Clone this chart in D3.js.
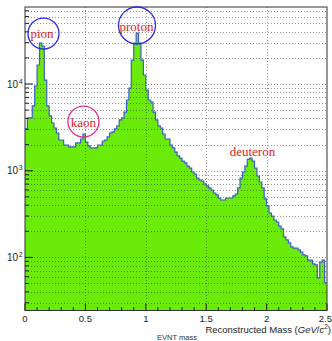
<!DOCTYPE html>
<html>
<head>
<meta charset="utf-8">
<script src="https://cdn.jsdelivr.net/npm/d3@7"></script>
<style>
  body { margin: 0; background: #fff; }
</style>
</head>
<body>
<div id="my_hist"></div>
<script>
// reconstructed mass histogram, 125 bins of 0.02 GeV/c^2 from 0 to 2.5
const massRange = [0, 2.5];
const counts = [
  3030, 4060, 4060, 5580, 9480, 16560, 29700, 27400, 11100, 5580,
  4280, 3550, 3110, 2720, 2260, 2260, 1980, 1980, 1880, 1880,
  1880, 2090, 2090, 2320, 2650, 2140, 1930, 1830, 1830, 1830,
  1980, 1980, 2200, 2260, 2450, 2720, 2800, 3030, 3280, 3850,
  4060, 4750, 6540, 8990, 18900, 29700, 38700, 29700, 18900, 12700,
  8530, 6540, 6200, 4750, 3850, 3280, 3110, 2650, 2320, 2320,
  1980, 1830, 1640, 1480, 1400, 1290, 1230, 1130, 1070, 966,
  916, 824, 781, 761, 703, 667, 632, 599, 553, 525,
  484, 459, 459, 484, 484, 484, 511, 538, 632, 824,
  966, 1130, 1350, 1400, 1290, 1070, 869, 741, 632, 472,
  392, 325, 300, 270, 256, 230, 213, 172, 159, 147,
  132, 128, 128, 122, 115, 107, 104, 93, 93, 84,
  82, 58, 88, 93, 51
];
const countRange = [24.4, 77300];

const xTicks = [0, 0.5, 1, 1.5, 2, 2.5];
const xTickLabels = ["0", "0.5", "1", "1.5", "2", "2.5"];
const yDecades = [2, 3, 4];

// particle labels (mass, counts) and the circles drawn round them
const peakNames = ["pion", "kaon", "proton", "deuteron"];
const peakLabelMass = [0.141, 0.484, 0.923, 1.883];
const peakLabelCount = [34000, 3190, 40800, 1480];
const circleMass = [0.153, 0.484, 0.927];
const circleCount = [38200, 3690, 47300];
const circleColor = ["#2a2ae0", "#e0308c", "#2a2ae0"];
const circleRadius = [15.5, 15.5, 18.5];

// set the dimensions and margins of the graph
const W = 332, H = 341;
const margin = {top: 7, right: 5, bottom: 30.5, left: 25};

const svg = d3.select("#my_hist")
  .append("svg")
    .attr("width", W)
    .attr("height", H)
    .style("font-family", "'Liberation Sans', Arial, sans-serif");

const x = d3.scaleLinear()
  .domain(massRange)
  .range([margin.left, W - margin.right]);

const y = d3.scaleLog()
  .domain(countRange)
  .range([H - margin.bottom, margin.top]);

const bw = (massRange[1] - massRange[0]) / counts.length;

// step outline of the histogram
const pts = [];
counts.forEach((c, i) => {
  pts.push([x(i * bw), y(c)]);
  pts.push([x((i + 1) * bw), y(c)]);
});

svg.append("path")
  .datum(pts)
  .attr("fill", "#6aeb0a")
  .attr("d", d3.area().x(d => d[0]).y0(y.range()[0]).y1(d => d[1]));

// grid (dotted, drawn over the fill)
const grid = svg.append("g")
  .attr("stroke", "#3a3a3a")
  .attr("stroke-opacity", 0.55)
  .attr("stroke-dasharray", "1,2")
  .attr("fill", "none");

xTicks.filter(t => t > 0 && t < 2.5).forEach(t => {
  grid.append("line")
    .attr("x1", Math.round(x(t)) + 0.5).attr("x2", Math.round(x(t)) + 0.5)
    .attr("y1", y.range()[1]).attr("y2", y.range()[0]);
});

const yGrid = [];
[1, 2, 3, 4].forEach(k => {
  for (let m = 1; m <= 9; m++) {
    const v = m * Math.pow(10, k);
    if (v > countRange[0] && v < countRange[1]) yGrid.push(v);
  }
});
yGrid.forEach(v => {
  grid.append("line")
    .attr("x1", x.range()[0]).attr("x2", x.range()[1])
    .attr("y1", Math.round(y(v)) + 0.5).attr("y2", Math.round(y(v)) + 0.5);
});

svg.append("path")
  .datum(pts)
  .attr("fill", "none")
  .attr("stroke", "#3b5fc9")
  .attr("stroke-width", 1.2)
  .attr("d", d3.line());

// frame
svg.append("rect")
  .attr("x", x.range()[0]).attr("y", y.range()[1])
  .attr("width", x.range()[1] - x.range()[0])
  .attr("height", y.range()[0] - y.range()[1])
  .attr("fill", "none")
  .attr("stroke", "#333")
  .attr("stroke-width", 1);

// x ticks: majors every 0.5, minors every 0.1, pointing up
const ticks = svg.append("g").attr("stroke", "#222").attr("stroke-width", 1);
d3.range(26).forEach(i => {
  const t = i / 10;
  const major = i % 5 === 0;
  ticks.append("line")
    .attr("x1", x(t)).attr("x2", x(t))
    .attr("y1", y.range()[0]).attr("y2", y.range()[0] - (major ? 7 : 3.5));
});
// y ticks on the left axis
yGrid.forEach(v => {
  const major = Math.abs(Math.log10(v) - Math.round(Math.log10(v))) < 1e-9;
  ticks.append("line")
    .attr("x1", x.range()[0]).attr("x2", x.range()[0] + (major ? 8 : 4))
    .attr("y1", y(v)).attr("y2", y(v));
});

// tick labels
svg.append("g")
  .selectAll("text")
  .data(xTicks)
  .join("text")
    .attr("x", d => d === 2.5 ? W : x(d))
    .attr("y", y.range()[0] + 11)
    .attr("text-anchor", d => d === 2.5 ? "end" : "middle")
    .attr("font-size", 9.5)
    .attr("fill", "#222")
    .text((d, i) => xTickLabels[i]);

const yl = svg.append("g")
  .selectAll("text")
  .data(yDecades)
  .join("text")
    .attr("x", 7)
    .attr("y", d => y(Math.pow(10, d)) + 3.5)
    .attr("font-size", 10)
    .attr("fill", "#222");
yl.append("tspan").text("10");
yl.append("tspan").attr("dy", -4).attr("dx", 0.5).attr("font-size", 7).text(d => d);

// axis titles
const xt = svg.append("text")
  .attr("x", 331)
  .attr("y", 332.5)
  .attr("text-anchor", "end")
  .attr("font-size", 9.5)
  .attr("fill", "#222");
xt.append("tspan").text("Reconstructed Mass (");
xt.append("tspan").attr("font-style", "italic").text("GeV");
xt.append("tspan").text("/");
xt.append("tspan").attr("font-style", "italic").text("c");
xt.append("tspan").attr("dy", -3.5).attr("font-size", 6.5).text("2");
xt.append("tspan").attr("dy", 3.5).text(")");

svg.append("text")
  .attr("x", 177)
  .attr("y", 340)
  .attr("text-anchor", "middle")
  .attr("font-size", 7.5)
  .attr("fill", "#333")
  .text("EVNT mass");

// annotations
svg.append("g")
  .selectAll("circle")
  .data(circleMass)
  .join("circle")
    .attr("cx", d => x(d))
    .attr("cy", (d, i) => y(circleCount[i]))
    .attr("r", (d, i) => circleRadius[i])
    .attr("fill", "none")
    .attr("stroke", (d, i) => circleColor[i])
    .attr("stroke-width", 1.3);

svg.append("g")
  .selectAll("text")
  .data(peakNames)
  .join("text")
    .attr("x", (d, i) => x(peakLabelMass[i]))
    .attr("y", (d, i) => y(peakLabelCount[i]))
    .attr("text-anchor", "middle")
    .attr("font-family", "'Liberation Serif', 'Times New Roman', serif")
    .attr("font-size", 13)
    .attr("fill", "#dd2222")
    .text(d => d);
</script>
</body>
</html>
